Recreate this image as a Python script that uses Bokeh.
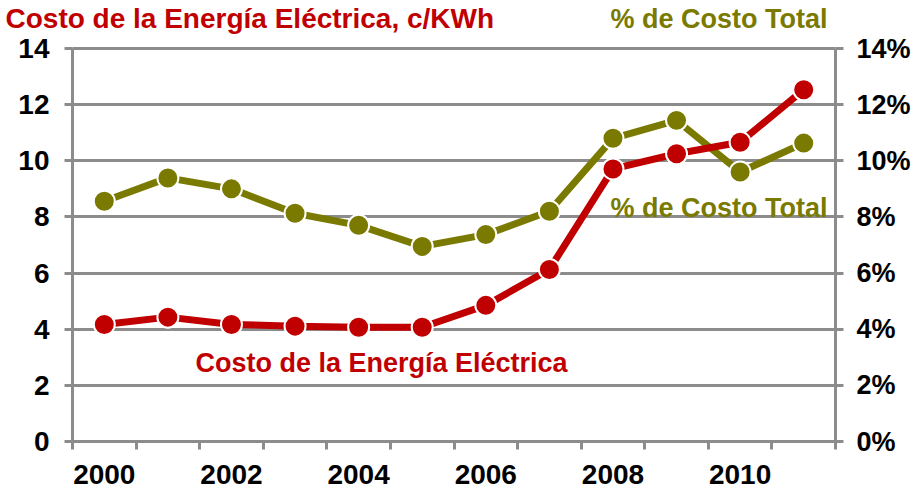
from bokeh.plotting import figure
from bokeh.models import Range1d, LinearAxis, FixedTicker, PrintfTickFormatter, Label
from bokeh.embed import file_html
from bokeh.resources import INLINE

years = [2000, 2001, 2002, 2003, 2004, 2005, 2006, 2007, 2008, 2009, 2010, 2011]
costo_kwh = [4.17, 4.43, 4.17, 4.11, 4.07, 4.07, 4.85, 6.13, 9.71, 10.25, 10.66, 12.53]
pct_costo_total = [8.56, 9.39, 9.0, 8.13, 7.70, 6.95, 7.37, 8.2, 10.8, 11.44, 9.6, 10.63]
x_tick_years = [2000, 2002, 2004, 2006, 2008, 2010]
y_ticks = [0, 2, 4, 6, 8, 10, 12, 14]

title_left = "Costo de la Energía Eléctrica, c/KWh"
title_right = "% de Costo Total"
label_red = "Costo de la Energía Eléctrica"
label_olive = "% de Costo Total"

RED = "#C00000"
OLIVE = "#7A7A00"
GRID = "#8C8C8C"
FONT = "Liberation Sans"
TXT_SIZE = "27px"

# layout geometry (pixels) of the plotting area inside the 922x489 canvas
W, H = 922, 489
AX_L, AX_R, AX_T, AX_B = 72, 835, 48, 441
x0, x1 = years[0] - 0.5, years[-1] + 0.5
y0, y1 = y_ticks[0], y_ticks[-1]
sx = (AX_R - AX_L) / (x1 - x0)
sy = (AX_B - AX_T) / (y1 - y0)

def px_x(px):
    return x0 + (px - AX_L) / sx

def px_y(py):
    return y0 + (AX_B - py) / sy

p = figure(width=W, height=H, output_backend="svg", toolbar_location=None,
           x_range=Range1d(px_x(0), px_x(W)), y_range=Range1d(px_y(H), px_y(0)),
           min_border=0, min_border_left=0, min_border_right=0,
           min_border_top=0, min_border_bottom=0)
p.outline_line_color = None
p.background_fill_color = "white"
p.border_fill_color = "white"
p.extra_y_ranges = {"pct": Range1d(px_y(H), px_y(0))}

p.xgrid.grid_line_color = None
p.ygrid.ticker = FixedTicker(ticks=y_ticks)
p.ygrid.grid_line_color = GRID
p.ygrid.grid_line_width = 3
p.ygrid.cross_bounds = (x0, x1)

xa = p.xaxis[0]
xa.fixed_location = y0
xa.bounds = (x0, x1)
xa.ticker = FixedTicker(ticks=x_tick_years, minor_ticks=[y - 0.5 for y in years] + [x1])
xa.major_tick_line_color = None
xa.major_tick_out = 0
xa.major_tick_in = 0
xa.minor_tick_out = 8
xa.minor_tick_in = 0
xa.minor_tick_line_color = GRID
xa.minor_tick_line_width = 3
xa.axis_line_color = GRID
xa.axis_line_width = 3
xa.major_label_standoff = 15
xa.major_label_text_font = FONT
xa.major_label_text_font_style = "bold"
xa.major_label_text_font_size = "28px"
xa.major_label_text_color = "black"

ya = p.yaxis[0]
ya.fixed_location = x0
ya.bounds = (y0, y1)
ya.ticker = FixedTicker(ticks=y_ticks)
ya.major_tick_out = 8
ya.major_tick_in = 0
ya.minor_tick_line_color = None
ya.major_tick_line_color = GRID
ya.major_tick_line_width = 3
ya.axis_line_color = GRID
ya.axis_line_width = 3
ya.major_label_standoff = 15
ya.major_label_text_font = FONT
ya.major_label_text_font_style = "bold"
ya.major_label_text_font_size = "28px"
ya.major_label_text_color = "black"

ra = LinearAxis(y_range_name="pct", ticker=FixedTicker(ticks=y_ticks),
                formatter=PrintfTickFormatter(format="%d%%"))
ra.fixed_location = x1
ra.bounds = (y0, y1)
ra.major_tick_out = 8
ra.major_tick_in = 0
ra.minor_tick_line_color = None
ra.major_tick_line_color = GRID
ra.major_tick_line_width = 3
ra.axis_line_color = GRID
ra.axis_line_width = 3
ra.major_label_standoff = 13
ra.major_label_text_font = FONT
ra.major_label_text_font_style = "bold"
ra.major_label_text_font_size = "27px"
ra.major_label_text_color = "black"
p.add_layout(ra, "right")

p.line(years, pct_costo_total, y_range_name="pct", line_color=OLIVE, line_width=7)
p.scatter(years, pct_costo_total, y_range_name="pct", size=21, fill_color=OLIVE,
          line_color="white", line_width=2)
p.line(years, costo_kwh, line_color=RED, line_width=7)
p.scatter(years, costo_kwh, size=21, fill_color=RED, line_color="white", line_width=2)

def add_text(px, py, text, color, size=TXT_SIZE):
    p.add_layout(Label(x=px_x(px), y=px_y(py), text=text, text_color=color, text_font=FONT,
                       text_font_style="bold", text_font_size=size,
                       text_baseline="middle", text_align="left"))

add_text(5, 18, title_left, RED, "28px")
add_text(610, 18, title_right, OLIVE)
add_text(610, 207, label_olive, OLIVE)
add_text(195, 362, label_red, RED)

open("out.html", "w").write(file_html(p, INLINE))
